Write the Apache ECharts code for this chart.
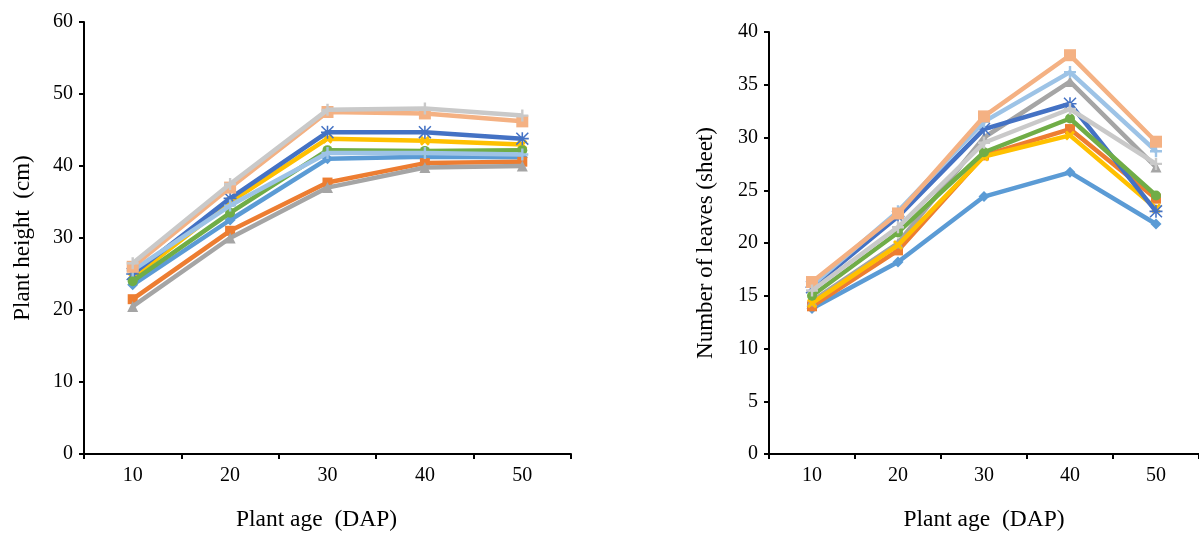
<!DOCTYPE html>
<html>
<head>
<meta charset="utf-8">
<script src="https://cdn.jsdelivr.net/npm/echarts@6/dist/echarts.min.js"></script>
<style>html,body{margin:0;padding:0;background:#fff}#c{width:1199px;height:537px}</style>
</head>
<body>
<div id="c"></div>
<script>
// ---- data ----
const categories = ['10', '20', '30', '40', '50'];
const seriesNames = ['T1', 'T2', 'T3', 'T4', 'T5', 'T6', 'T7', 'T8', 'T9'];
// Plant height (cm)
const height_T1 = [23.5, 32.5, 41.0, 41.3, 41.2];
const height_T2 = [21.5, 31.0, 37.7, 40.4, 40.6];
const height_T3 = [20.5, 30.0, 37.0, 39.8, 40.0];
const height_T4 = [24.5, 35.0, 43.8, 43.5, 43.0];
const height_T5 = [25.0, 35.5, 44.7, 44.7, 43.8];
const height_T6 = [24.0, 33.5, 42.2, 42.1, 42.2];
const height_T7 = [25.5, 34.5, 41.8, 41.8, 41.6];
const height_T8 = [26.0, 37.0, 47.5, 47.3, 46.2];
const height_T9 = [26.5, 37.5, 47.8, 48.0, 47.0];
// Number of leaves (sheet)
const leaves_T1 = [13.8, 18.2, 24.4, 26.7, 21.8];
const leaves_T2 = [14.0, 19.3, 28.3, 30.8, 24.2];
const leaves_T3 = [14.5, 20.0, 30.0, 35.3, 27.2];
const leaves_T4 = [14.3, 19.8, 28.2, 30.2, 23.3];
const leaves_T5 = [15.8, 22.5, 30.8, 33.2, 23.0];
const leaves_T6 = [15.0, 21.0, 28.6, 31.8, 24.5];
const leaves_T7 = [16.0, 23.0, 31.5, 36.2, 28.7];
const leaves_T8 = [16.3, 22.8, 32.0, 37.8, 29.6];
const leaves_T9 = [15.5, 21.5, 29.5, 32.7, 27.5];
const heightTicks = [0, 10, 20, 30, 40, 50, 60];
const leavesTicks = [0, 5, 10, 15, 20, 25, 30, 35, 40];

const heightData = [height_T1, height_T2, height_T3, height_T4, height_T5, height_T6, height_T7, height_T8, height_T9];
const leavesData = [leaves_T1, leaves_T2, leaves_T3, leaves_T4, leaves_T5, leaves_T6, leaves_T7, leaves_T8, leaves_T9];

// ---- styles ----
const colors = ['#5B9BD5', '#ED7D31', '#A5A5A5', '#FFC000', '#4472C4', '#70AD47', '#9DC3E6', '#F4B183', '#C9C9C9'];
const X = 'path://M2,0L5,3L8,0L10,2L7,5L10,8L8,10L5,7L2,10L0,8L3,5L0,2Z';
const STAR = 'path://M4.4,0H5.6V10H4.4Z M0,4.4H10V5.6H0Z M0.8,0L10,9.2L9.2,10L0,0.8Z M9.2,0L10,0.8L0.8,10L0,9.2Z';
const PLUS = 'path://M4,0H6V4H10V6H6V10H4V6H0V4H4Z';
const DASH = 'path://M0,4H10V6H0Z';
const symbols = ['diamond', 'rect', 'triangle', X, STAR, 'circle', PLUS, DASH, PLUS];
const sizes = [11, 10, 11, 10, 13, 10, 12, 12, 12];

const font = 'Liberation Serif';
function xAx(gi, nameShift) {
  return {
    type: 'category', gridIndex: gi, data: categories, boundaryGap: true,
    name: 'Plant age  (DAP)', nameLocation: 'middle', nameGap: 54,
    nameTextStyle: { fontFamily: font, fontSize: 23.5, color: '#000', padding: [0, nameShift, 0, 0] },
    axisLine: { lineStyle: { color: '#000', width: 2 } },
    axisTick: { show: true, length: 5, lineStyle: { color: '#000', width: 2 } },
    axisLabel: { fontFamily: font, fontSize: 20, color: '#000', margin: 12 }
  };
}
function yAx(gi, name, max, interval, gap) {
  return {
    type: 'value', gridIndex: gi, min: 0, max: max, interval: interval,
    name: name, nameLocation: 'middle', nameGap: gap, nameRotate: 90,
    nameTextStyle: { fontFamily: font, fontSize: 23, color: '#000' },
    axisLine: { show: true, lineStyle: { color: '#000', width: 2 } },
    axisTick: { show: true, length: 5, lineStyle: { color: '#000', width: 2 } },
    axisLabel: { fontFamily: font, fontSize: 20, color: '#000', margin: 11 },
    splitLine: { show: false }
  };
}
const series = [];
function addSeries(dataList, gi) {
  dataList.forEach((d, i) => {
    series.push({
      name: seriesNames[i], type: 'line', xAxisIndex: gi, yAxisIndex: gi, data: d,
      symbol: symbols[i], symbolSize: sizes[i], showSymbol: true,
      lineStyle: { color: colors[i], width: 4.5 },
      itemStyle: { color: colors[i] },
      z: 2 + i, animation: false
    });
  });
}
addSeries(heightData, 0);
addSeries(leavesData, 1);

const chart = echarts.init(document.getElementById('c'), null, { renderer: 'canvas' });
chart.setOption({
  backgroundColor: '#fff',
  animation: false,
  grid: [
    { left: 84, top: 22, width: 487, height: 433 },
    { left: 769, top: 32, width: 435, height: 423 }
  ],
  xAxis: [xAx(0, 22), xAx(1, 0)],
  yAxis: [yAx(0, 'Plant height  (cm)', heightTicks[heightTicks.length - 1], heightTicks[1] - heightTicks[0], 50),
          yAx(1, 'Number of leaves (sheet)', leavesTicks[leavesTicks.length - 1], leavesTicks[1] - leavesTicks[0], 52)],
  series: series
});
</script>
</body>
</html>
